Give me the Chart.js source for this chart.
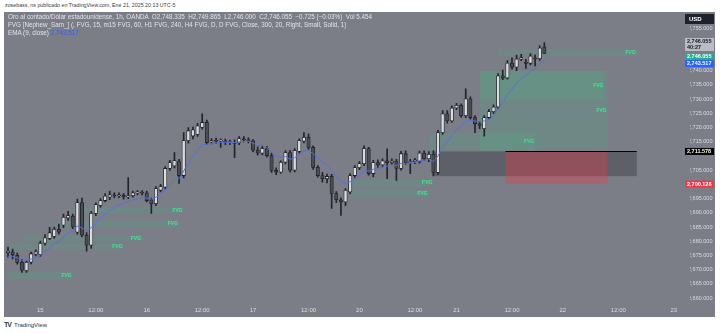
<!DOCTYPE html>
<html>
<head>
<meta charset="utf-8">
<script src="https://cdn.jsdelivr.net/npm/chart.js@4.4.1/dist/chart.umd.min.js"></script>
<style>
  html, body { margin: 0; padding: 0; background: #ffffff; }
  body { width: 720px; height: 333px; position: relative; overflow: hidden; font-family: "Liberation Sans", Arial, sans-serif; }
  #top { position: absolute; left: 5px; top: 2px; font-size: 5.3px; color: #3a3a3a; white-space: nowrap; }
  #panel { position: absolute; left: 4px; top: 12px; width: 711px; height: 305px; background: #7b7d87; }
  #legend { position: absolute; left: 8px; top: 13px; font-size: 6.3px; color: #e3e5ea; line-height: 8px; white-space: nowrap; }
  #legend .ema { color: #2962ff; }
  #foot { position: absolute; left: 4px; top: 321px; font-size: 6px; color: #333; white-space: nowrap; }
  #foot b { font-size: 7px; letter-spacing: -1px; margin-right: 3px; }
</style>
</head>
<body>
<div id="top">zosebass, ns publicado en TradingView.com, Ene 21, 2025 20:13 UTC-5</div>
<div id="panel"><canvas id="chart" width="711" height="305"></canvas></div>
<div id="legend">
  <div>Oro al contado/Dólar estadounidense, 1h, OANDA &nbsp;O2,748.335 &nbsp;H2,749.865 &nbsp;L2,746.000 &nbsp;C2,746.055 &nbsp;−0.725 (−0.03%) &nbsp;Vol 5.454</div>
  <div>FVG [Nephew_Sam_] (, FVG, 15, m15 FVG, 60, H1 FVG, 240, H4 FVG, D, D FVG, Close, 300, 20, Right, Small, Solid, 1)</div>
  <div>EMA (9, close) <span class="ema">2,743.517</span></div>
</div>
<div id="foot"><b>TV</b>TradingView</div>
<script>
// hourly candles, index 0 = Jan 14 16:00, last = Jan 21 20:00
const opens = [2676.0,2676.3,2675.0,2672.6,2669.6,2672.6,2675.4,2675.2,2679.3,2681.0,
  2681.7,2684.2,2685.6,2688.2,2688.8,2683.2,2693.6,2682.1,2678.6,2689.8,
  2692.6,2694.3,2695.5,2696.2,2696.0,2696.2,2695.6,2696.0,2697.0,2697.1,
  2697.0,2694.6,2693.2,2697.9,2699.0,2705.6,2706.5,2708.0,2703.1,2715.4,
  2717.0,2717.6,2720.0,2721.8,2714.9,2715.4,2715.2,2715.3,2714.7,2714.9,
  2714.6,2716.0,2715.6,2715.3,2712.0,2711.0,2712.6,2710.1,2704.9,2704.3,
  2707.8,2711.2,2705.0,2711.6,2715.2,2716.6,2713.0,2706.0,2703.1,2702.0,
  2702.8,2696.8,2694.6,2693.8,2697.3,2703.1,2705.9,2707.3,2712.6,2703.8,
  2707.7,2706.8,2708.3,2707.6,2708.2,2705.6,2710.8,2707.6,2708.0,2708.0,
  2711.0,2709.0,2710.6,2704.2,2718.2,2724.8,2722.3,2726.9,2727.8,2724.2,
  2730.1,2723.5,2721.3,2719.6,2723.5,2725.6,2727.2,2738.2,2737.4,2742.7,
  2741.2,2744.1,2743.0,2742.6,2744.5,2744.2,2748.335];
const highs = [2677.9,2677.2,2675.8,2673.6,2673.3,2676.2,2677.0,2680.0,2682.3,2684.9,
  2685.0,2686.0,2689.5,2690.5,2689.5,2694.8,2695.2,2683.0,2690.5,2693.5,
  2695.0,2696.8,2697.6,2697.0,2697.0,2696.8,2702.4,2697.6,2697.8,2697.8,
  2697.6,2695.2,2699.2,2700.0,2706.3,2708.5,2711.2,2708.8,2718.2,2720.0,
  2720.2,2721.5,2724.8,2722.6,2716.1,2716.3,2716.0,2715.9,2715.6,2715.7,
  2716.8,2716.8,2716.4,2715.8,2713.2,2713.6,2713.4,2711.0,2705.8,2708.3,
  2711.9,2712.0,2712.6,2716.0,2718.2,2717.8,2713.6,2706.6,2704.2,2703.6,
  2703.5,2697.5,2695.3,2698.5,2703.8,2706.6,2708.0,2713.6,2713.0,2708.5,
  2708.6,2709.0,2712.5,2709.0,2708.8,2711.6,2711.8,2708.8,2709.2,2711.7,
  2711.8,2711.5,2711.8,2719.0,2726.0,2726.0,2727.6,2728.5,2728.3,2733.6,
  2730.8,2724.2,2722.0,2724.2,2726.4,2728.0,2739.0,2740.2,2743.6,2744.5,
  2745.5,2745.8,2744.0,2746.0,2745.6,2748.8,2749.865];
const lows = [2674.4,2673.8,2671.9,2669.0,2669.0,2672.0,2674.8,2674.6,2678.6,2680.5,
  2681.0,2682.5,2684.8,2687.3,2684.4,2682.5,2681.5,2676.5,2677.5,2689.0,
  2692.0,2693.8,2694.6,2695.2,2695.3,2694.8,2695.0,2695.5,2696.3,2696.2,
  2693.8,2689.8,2692.5,2697.3,2698.4,2704.9,2705.8,2700.3,2702.3,2714.5,
  2716.0,2716.9,2719.4,2714.0,2714.2,2714.4,2713.0,2714.0,2714.0,2709.4,
  2714.0,2714.9,2714.6,2711.4,2710.3,2710.4,2709.6,2704.2,2703.4,2703.9,
  2707.2,2704.3,2704.4,2711.0,2714.6,2712.3,2705.3,2702.5,2700.8,2700.5,
  2691.5,2693.6,2689.1,2692.5,2696.6,2702.4,2705.2,2706.6,2703.2,2702.6,
  2706.0,2706.1,2702.0,2707.0,2701.4,2705.0,2707.0,2703.8,2707.3,2707.5,
  2708.4,2708.0,2703.0,2703.5,2717.6,2721.5,2721.8,2726.3,2723.6,2723.5,
  2722.9,2718.2,2719.6,2717.0,2723.0,2725.0,2726.6,2736.8,2737.0,2740.5,
  2740.0,2743.5,2740.8,2742.0,2741.7,2743.6,2746.0];
const closes = [2676.5,2675.2,2672.5,2669.8,2672.6,2675.6,2676.3,2679.3,2681.2,2683.0,
  2684.2,2683.2,2688.4,2689.0,2685.0,2693.6,2682.1,2678.6,2689.8,2692.9,
  2694.3,2695.9,2696.3,2696.0,2696.2,2695.6,2696.0,2697.0,2697.1,2696.9,
  2694.3,2693.2,2698.5,2699.2,2705.6,2707.7,2708.4,2703.1,2715.4,2718.9,
  2719.2,2720.6,2721.8,2714.7,2715.4,2715.2,2715.5,2714.7,2714.9,2714.4,
  2716.1,2715.6,2715.3,2712.0,2711.0,2712.6,2710.1,2704.9,2704.3,2707.8,
  2711.2,2705.0,2711.9,2715.4,2716.6,2713.0,2706.0,2703.1,2702.0,2702.8,
  2696.8,2694.6,2693.8,2697.9,2703.1,2705.9,2707.3,2712.6,2703.8,2707.7,
  2706.8,2708.3,2707.6,2708.2,2705.6,2710.8,2707.6,2708.0,2708.6,2711.0,
  2709.0,2710.6,2704.2,2718.2,2724.8,2722.3,2726.9,2727.8,2724.2,2730.1,
  2723.5,2721.3,2720.7,2723.5,2725.6,2727.2,2738.2,2737.4,2742.7,2741.2,
  2744.1,2744.6,2742.6,2745.2,2744.2,2748.0,2746.055];
const ema9 = [2674.5,2674.6,2674.2,2673.3,2673.2,2673.7,2674.2,2675.2,2676.4,2677.7,
  2679.0,2679.8,2681.5,2683.0,2683.4,2685.4,2684.7,2683.5,2684.8,2686.4,
  2688.0,2689.6,2690.9,2691.9,2692.8,2693.4,2693.9,2694.5,2695.0,2695.4,
  2695.2,2694.8,2695.5,2696.2,2698.1,2700.0,2701.7,2702.0,2704.7,2707.5,
  2709.8,2712.0,2714.0,2714.1,2714.4,2714.6,2714.8,2714.8,2714.8,2714.7,
  2715.0,2715.1,2715.1,2714.5,2713.8,2713.6,2712.9,2711.3,2709.9,2709.5,
  2709.8,2708.8,2709.4,2710.6,2711.8,2712.0,2710.8,2709.3,2707.8,2706.8,
  2704.8,2702.8,2701.0,2700.4,2700.9,2701.9,2703.0,2704.9,2704.7,2705.3,
  2705.6,2706.1,2706.4,2706.8,2706.6,2707.4,2707.4,2707.5,2707.7,2708.4,
  2708.5,2708.9,2708.0,2710.0,2713.0,2714.9,2717.3,2719.4,2720.4,2722.3,
  2722.5,2722.3,2722.0,2722.3,2723.0,2723.8,2726.7,2728.8,2731.6,2733.5,
  2735.6,2737.4,2738.4,2739.8,2740.7,2742.2,2743.5];

// time axis (bar slots incl. future space)
const slotCount = 148;
const timeTickIndex = [7, 19, 30, 42, 53, 65, 76, 88, 97, 109, 120, 132, 144];
const timeTickText = ['15', '12:00', '16', '12:00', '17', '12:00', '20', '12:00', '21', '12:00', '22', '12:00', '23'];

// price axis
const priceMin = 2658.25, priceMax = 2760.2;
const priceTicks = [2660, 2665, 2670, 2675, 2680, 2685, 2690, 2695, 2705, 2715, 2720, 2725, 2730, 2735, 2740, 2755];

// FVG zones (bar index from/to, price low/high)
const zoneFrom = [0, 0, 3, 10, 14, 74, 74, 91, 102, 102, 106];
const zoneTo = [14, 25, 29, 37, 38, 92, 91, 114, 129.7, 129, 136];
const zoneLow = [2666.7, 2677.0, 2680.0, 2685.0, 2689.8, 2699.2, 2695.4, 2711.9, 2711.9, 2729.8, 2745.2];
const zoneHigh = [2669.1, 2678.9, 2682.1, 2687.3, 2691.9, 2701.7, 2698.2, 2718.2, 2739.9, 2739.9, 2747.6];

// long position tool
const boxFrom = 92, boxTo = 136, boxLow = 2702.9;
const posFrom = 107.6, posTo = 129.7;
const entryPrice = 2711.578, stopPrice = 2700.128;

// right axis labels
const lastPrice = 2746.055, emaLast = 2743.517, countdown = '40:27';

const up = closes.map((c, i) => c >= opens[i]);
const fmt = v => v.toLocaleString('en-US', { minimumFractionDigits: 3, maximumFractionDigits: 3 });

const overlay = {
  id: 'overlay',
  beforeDraw(chart) {
    const { ctx, width, height } = chart;
    ctx.save();
    ctx.fillStyle = '#7b7d87';
    ctx.fillRect(0, 0, width, height);
    ctx.restore();
  },
  beforeDatasetsDraw(chart) {
    const { ctx, scales: { x, y } } = chart;
    ctx.save();
    // fvg zones
    zoneFrom.forEach((f, k) => {
      const x0 = x.getPixelForValue(f), x1 = x.getPixelForValue(zoneTo[k]);
      const y0 = y.getPixelForValue(zoneHigh[k]), y1 = y.getPixelForValue(zoneLow[k]);
      ctx.fillStyle = 'rgba(60, 190, 130, 0.18)';
      ctx.fillRect(x0, y0, x1 - x0, y1 - y0);
      ctx.fillStyle = '#45e592';
      ctx.font = 'bold 5px "Liberation Sans"';
      ctx.textAlign = 'right';
      ctx.textBaseline = 'middle';
      ctx.fillText('FVG', x1 - 1, (y0 + y1) / 2);
    });
    // position tool
    const ex0 = x.getPixelForValue(boxFrom), ex1 = x.getPixelForValue(boxTo);
    const ey = y.getPixelForValue(entryPrice), by = y.getPixelForValue(boxLow);
    ctx.fillStyle = 'rgba(70, 72, 80, 0.55)';
    ctx.fillRect(ex0, ey, ex1 - ex0, by - ey);
    const px0 = x.getPixelForValue(posFrom), px1 = x.getPixelForValue(posTo);
    const sy = y.getPixelForValue(stopPrice);
    ctx.fillStyle = 'rgba(242, 54, 69, 0.35)';
    ctx.fillRect(px0, ey, px1 - px0, sy - ey);
    ctx.strokeStyle = '#000';
    ctx.lineWidth = 1;
    ctx.beginPath();
    ctx.moveTo(px0, Math.round(ey) + 0.5);
    ctx.lineTo(ex1, Math.round(ey) + 0.5);
    ctx.stroke();
    ctx.restore();
  },
  afterDraw(chart) {
    const { ctx, scales: { y } } = chart;
    const left = y.left - 5, w = chart.width - 1 - left;
    const box = (cy, h, bg, fg, lines) => {
      ctx.fillStyle = bg;
      ctx.fillRect(left, cy - h / 2, w, h);
      ctx.fillStyle = fg;
      ctx.font = 'bold 5.5px "Liberation Sans"';
      ctx.textAlign = 'left';
      ctx.textBaseline = 'middle';
      lines.forEach((t, k) => ctx.fillText(t, left + 2, cy - (lines.length - 1) * 3.1 + k * 6.2));
    };
    ctx.save();
    const gy = y.getPixelForValue(lastPrice) + 3;
    box(gy - 12, 13, '#b9bcc4', '#131722', [fmt(lastPrice), countdown]);
    box(gy, 7, '#22ab94', '#ffffff', [fmt(lastPrice)]);
    box(gy + 7, 7, '#2962ff', '#ffffff', [fmt(emaLast)]);
    box(y.getPixelForValue(entryPrice), 7, '#000000', '#ffffff', [fmt(entryPrice)]);
    box(y.getPixelForValue(stopPrice), 7, '#f23645', '#ffffff', [fmt(stopPrice)]);
    // currency badge
    ctx.fillStyle = '#1e222d';
    ctx.fillRect(left, 2, w, 10);
    ctx.fillStyle = '#ffffff';
    ctx.font = 'bold 6px "Liberation Sans"';
    ctx.fillText('USD', left + 4, 7);
    ctx.restore();
  }
};

new Chart(document.getElementById('chart'), {
  type: 'bar',
  data: {
    labels: Array.from({ length: slotCount }, (_, i) => i),
    datasets: [
      {
        type: 'line', data: ema9, borderColor: '#5573d8', borderWidth: 1,
        pointRadius: 0, tension: 0, order: 1
      },
      {
        data: opens.map((o, i) => [o, closes[i]]), grouped: false, order: 2,
        barThickness: 3.4, minBarLength: 1, borderSkipped: false, borderWidth: 0.8,
        borderColor: '#1f2024',
        backgroundColor: up.map(u => u ? '#d9dbe0' : '#4a4d56')
      },
      {
        data: lows.map((l, i) => [l, highs[i]]), grouped: false, order: 3,
        barThickness: 1, backgroundColor: '#23242a'
      }
    ]
  },
  options: {
    responsive: false,
    animation: false,
    layout: { padding: { left: 1, right: 0, top: 0, bottom: 0 } },
    plugins: { legend: { display: false }, tooltip: { enabled: false } },
    scales: {
      x: {
        type: 'category', offset: true,
        grid: { display: false, drawTicks: false }, border: { display: false },
        ticks: {
          autoSkip: false, maxRotation: 0, minRotation: 0, padding: 4,
          color: '#dcdde2', font: { size: 6, family: 'Liberation Sans' },
          callback: (v, i) => { const k = timeTickIndex.indexOf(i); return k >= 0 ? timeTickText[k] : ''; }
        },
        afterFit: s => { s.height = 14; }
      },
      y: {
        position: 'right', min: priceMin, max: priceMax,
        grid: { display: false, drawTicks: false }, border: { display: false },
        afterBuildTicks: s => { s.ticks = priceTicks.map(v => ({ value: v })); },
        ticks: {
          padding: -2, color: '#dcdde2', font: { size: 5.5, family: 'Liberation Sans' },
          callback: v => fmt(v)
        },
        afterFit: s => { s.width = 25; }
      }
    }
  },
  plugins: [overlay]
});
</script>
</body>
</html>
